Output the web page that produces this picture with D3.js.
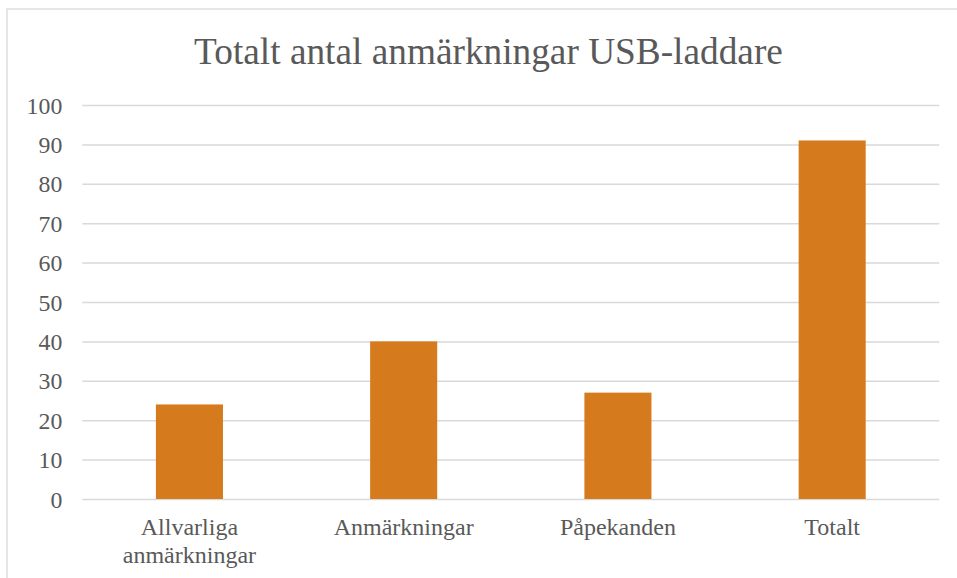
<!DOCTYPE html>
<html>
<head>
<meta charset="utf-8">
<script src="https://cdn.jsdelivr.net/npm/d3@7"></script>
<style>
  html, body { margin: 0; padding: 0; background: #fff; }
  svg { display: block; }
  svg text { font-family: "Liberation Serif", "Times New Roman", "DejaVu Serif", serif; }
</style>
</head>
<body>
<svg id="chart" width="957" height="578"></svg>
<script>
const title = "Totalt antal anmärkningar USB-laddare";
const categories = [["Allvarliga", "anmärkningar"], ["Anmärkningar"], ["Påpekanden"], ["Totalt"]];
const values = [24, 40, 27, 91];
const yTicks = [0, 10, 20, 30, 40, 50, 60, 70, 80, 90, 100];

(function () {
const W = 957, H = 578;
const font = "Liberation Serif, Times New Roman, DejaVu Serif, serif";
const textColor = "#595959";
const gridColor = "#d9d9d9";
const barColor = "#d57b1e";

const svg = d3.select("#chart");

// chart frame
svg.append("rect")
  .attr("x", 7).attr("y", 9)
  .attr("width", W + 20).attr("height", H + 20)
  .attr("fill", "#fff").attr("stroke", gridColor).attr("stroke-width", 1.3);

const pLeft = 82.3, pRight = 939.3, pTop = 105, pBottom = 499;

const x = d3.scaleBand()
  .domain(categories.map((d, i) => i))
  .range([pLeft, pRight])
  .paddingInner(0.687)
  .paddingOuter(0.3435);

const y = d3.scaleLinear().domain([0, 100]).range([pBottom, pTop]);

// gridlines via axis
const yAxis = d3.axisLeft(y).tickValues(yTicks).tickSize(-(pRight - pLeft)).tickPadding(20).tickFormat(d3.format("d"));
const gy = svg.append("g").attr("transform", `translate(${pLeft},0)`).call(yAxis);
gy.attr("font-family", null).attr("font-size", null);
gy.select(".domain").remove();
gy.selectAll(".tick line").attr("stroke", gridColor).attr("stroke-width", 1.5);
gy.selectAll(".tick text")
  .attr("fill", textColor)
  .attr("font-family", font)
  .attr("font-size", 23.8)
  .attr("dy", "0.34em");

// bars
svg.append("g").selectAll("rect")
  .data(values)
  .join("rect")
  .attr("x", (d, i) => x(i))
  .attr("width", x.bandwidth())
  .attr("y", d => y(d))
  .attr("height", d => y(0) - y(d))
  .attr("fill", barColor);

// x axis labels
const xAxis = d3.axisBottom(x).tickSize(0).tickFormat(() => "");
const gx = svg.append("g").attr("transform", `translate(0,${pBottom})`).call(xAxis);
gx.attr("font-family", null).attr("font-size", null);
gx.select(".domain").remove();
gx.selectAll(".tick").each(function(d) {
  const t = d3.select(this).append("text")
    .attr("fill", textColor)
    .attr("text-anchor", "middle")
    .attr("font-family", font)
    .attr("font-size", 24);
  categories[d].forEach((line, j) => {
    t.append("tspan").attr("x", 0).attr("y", 36 + j * 28).text(line);
  });
});

// title
svg.append("text")
  .attr("x", 488.5).attr("y", 63.5)
  .attr("text-anchor", "middle")
  .attr("fill", textColor)
  .attr("font-family", font)
  .attr("font-size", 37.3)
  .text(title);
})();
</script>
</body>
</html>
